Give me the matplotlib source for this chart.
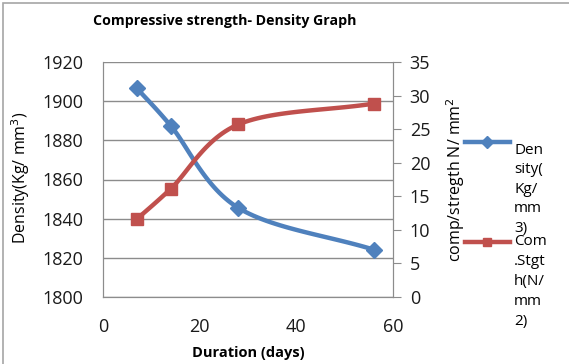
import numpy as np
import matplotlib
matplotlib.use("Agg")
import matplotlib.pyplot as plt
from matplotlib.lines import Line2D
from matplotlib.patches import Rectangle

# Density and compressive strength against curing age
days = [7, 14, 28, 56]
density = [1906.6, 1887.5, 1845.5, 1824.2]
strength = [11.6, 16.1, 25.7, 28.8]

density_ticks = [1800, 1820, 1840, 1860, 1880, 1900, 1920]
strength_ticks = [0, 5, 10, 15, 20, 25, 30, 35]
day_ticks = [0, 20, 40, 60]

BLUE = "#4F81BD"
RED = "#C0504D"
GRID = "#8C8C8C"

plt.rcParams["font.family"] = ["Open Sans", "DejaVu Sans"]


def smooth(x, y, n=30):
    # Catmull-Rom curve through the points, like a smoothed spreadsheet line
    x = np.asarray(x, float)
    y = np.asarray(y, float)
    px = np.concatenate([[2 * x[0] - x[1]], x, [2 * x[-1] - x[-2]]])
    py = np.concatenate([[2 * y[0] - y[1]], y, [2 * y[-1] - y[-2]]])
    xs, ys = [], []
    t = np.linspace(0, 1, n)
    for i in range(1, len(px) - 2):
        for p, out in ((px, xs), (py, ys)):
            p0, p1, p2, p3 = p[i - 1], p[i], p[i + 1], p[i + 2]
            out.extend(0.5 * (2 * p1 + (-p0 + p2) * t
                              + (2 * p0 - 5 * p1 + 4 * p2 - p3) * t ** 2
                              + (-p0 + 3 * p1 - 3 * p2 + p3) * t ** 3))
    return xs, ys


fig = plt.figure(figsize=(5.69, 3.64), dpi=100)
ax = fig.add_axes([103 / 569, 1 - 297 / 364, 290 / 569, 235 / 364])
ax2 = ax.twinx()

# outer chart border
fig.patches.append(Rectangle((3 / 569, -0.05), 1.2, 1 - 3 / 364 + 0.05,
                             transform=fig.transFigure, fill=False,
                             edgecolor="#A6A6A6", linewidth=1.2))

ax.set_xlim(0, 60)
ax.set_ylim(1800, 1920)
ax2.set_ylim(0, 35)
ax.set_xticks(day_ticks)
ax.set_yticks(density_ticks)
ax2.set_yticks(strength_ticks)
ax.grid(axis="y", color=GRID, linewidth=1)
ax.set_axisbelow(True)

for a in (ax, ax2):
    for side in a.spines:
        a.spines[side].set_color(GRID)
    a.spines["top"].set_visible(False)
    a.tick_params(labelsize=13, color=GRID, colors="#1a1a1a")
ax.tick_params(axis="x", length=0, pad=15)
ax.tick_params(axis="y", length=0, pad=14)
ax2.tick_params(axis="y", direction="out", length=6, pad=6)

xs, ys = smooth(days, density)
ax.plot(xs, ys, color=BLUE, linewidth=3.2, solid_capstyle="round")
ax.plot(days, density, "D", color=BLUE, markersize=8)

xs, ys = smooth(days, strength)
ax2.plot(xs, ys, color=RED, linewidth=3.2, solid_capstyle="round")
ax2.plot(days, strength, "s", color=RED, markersize=9)

fig.text(93 / 569, 1 - 21 / 364, "Compressive strength- Density Graph",
         fontsize=10.2, fontweight="bold", va="center")
fig.text(248 / 569, 1 - 353 / 364, "Duration (days)", fontsize=10.5,
         fontweight="bold", ha="center", va="center")
fig.text(21 / 569, 1 - 178 / 364, "Density(Kg/ mm$^3$)", rotation=90,
         fontsize=11.5, ha="center", va="center")
fig.text(456 / 569, 1 - 180 / 364, "comp/stregth N/ mm$^2$", rotation=90,
         fontsize=11.5, ha="center", va="center")

# legend entries stacked at the right edge
for y, color, marker in ((142, BLUE, "D"), (242, RED, "s")):
    yf = 1 - y / 364
    fig.add_artist(Line2D([465 / 569, 510 / 569], [yf, yf], color=color,
                          linewidth=3.2, transform=fig.transFigure))
    fig.add_artist(Line2D([487 / 569], [yf], marker=marker, color=color,
                          markersize=6, transform=fig.transFigure))
fig.text(514 / 569, 1 - 143 / 364, "Den\nsity(\nKg/\nmm\n3)", fontsize=11,
         va="top", linespacing=1.4)
fig.text(514 / 569, 1 - 234 / 364, "Com\n.Stgt\nh(N/\nmm\n2)", fontsize=11,
         va="top", linespacing=1.45)

fig.savefig("out.png", dpi=100)
